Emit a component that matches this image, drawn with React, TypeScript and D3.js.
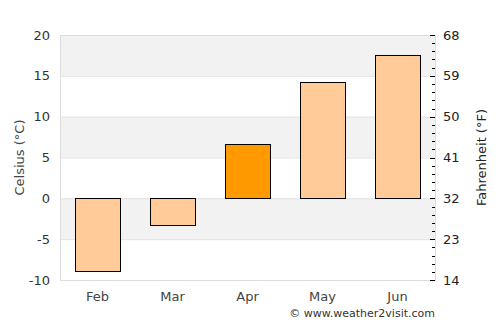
import React from 'react';
import * as d3 from 'd3';

const months = ['Feb', 'Mar', 'Apr', 'May', 'Jun'];
const temps = [-8.9, -3.3, 6.6, 14.2, 17.5];
const highlight = 'Apr';
const celsiusTicks = [-10, -5, 0, 5, 10, 15, 20];
const fahrenheitTicks = [14, 23, 32, 41, 50, 59, 68];

const W = 500;
const H = 325;
const margin = { top: 35, right: 65, bottom: 45, left: 60 };

export default function App() {
  const innerW = W - margin.left - margin.right;
  const innerH = H - margin.top - margin.bottom;

  const x = d3.scaleBand().domain(months).range([0, innerW]).paddingInner(0.4).paddingOuter(0.2);
  const y = d3.scaleLinear().domain([-10, 20]).range([innerH, 0]);
  const yF = d3.scaleLinear().domain([14, 68]).range([innerH, 0]);
  const minor = d3.range(-10, 21, 1);

  const font = 'DejaVu Sans, sans-serif';

  return (
    <svg width={W} height={H} style={{ position: 'absolute', left: 0, top: 0 }}>
      <g transform={`translate(${margin.left},${margin.top})`}>
        {/* alternating bands */}
        {celsiusTicks.slice(0, -1).map((t, i) =>
          i % 2 === 1 ? (
            <rect key={t} x={0} y={y(t + 5)} width={innerW} height={y(t) - y(t + 5)} fill="#f2f2f2" />
          ) : null
        )}
        {celsiusTicks.map(t => (
          <line key={t} x1={0} x2={innerW} y1={y(t) + 0.5} y2={y(t) + 0.5} stroke="#e2e2e2" />
        ))}
        <rect x={0.5} y={0.5} width={innerW} height={innerH} fill="none" stroke="#dddddd" />

        {/* bars */}
        {months.map((m, i) => {
          const v = temps[i];
          return (
            <rect
              key={m}
              x={Math.round(x(m)!) + 0.5}
              y={Math.round(y(Math.max(0, v))) + 0.5}
              width={Math.round(x.bandwidth())}
              height={Math.round(Math.abs(y(v) - y(0)))}
              fill={m === highlight ? '#ff9900' : '#ffcc99'}
              stroke="#000"
              strokeWidth={1}
            />
          );
        })}

        {/* left axis labels */}
        {celsiusTicks.map(t => (
          <text key={t} x={-10} y={y(t)} dy="0.35em" textAnchor="end" fontSize={13} fill="#333" fontFamily={font}>
            {t}
          </text>
        ))}

        {/* right axis ticks */}
        {minor.map(t => {
          const major = t % 5 === 0;
          return (
            <line
              key={t}
              x1={innerW - (major ? 5 : 3)}
              x2={innerW}
              y1={Math.round(y(t)) + 0.5}
              y2={Math.round(y(t)) + 0.5}
              stroke="#000"
            />
          );
        })}
        {fahrenheitTicks.map(t => (
          <text key={t} x={innerW + 8} y={yF(t)} dy="0.35em" textAnchor="start" fontSize={13} fill="#222" fontFamily={font}>
            {t}
          </text>
        ))}

        {/* month labels */}
        {months.map(m => (
          <text key={m} x={x(m)! + x.bandwidth() / 2} y={innerH + 21} textAnchor="middle" fontSize={13} fill="#444" fontFamily={font}>
            {m}
          </text>
        ))}

        <text
          transform={`translate(${-36},${innerH / 2}) rotate(-90)`}
          textAnchor="middle"
          fontSize={13}
          fill="#444"
          fontFamily={font}
        >
          Celsius (°C)
        </text>
        <text
          transform={`translate(${innerW + 51},${innerH / 2}) rotate(-90)`}
          textAnchor="middle"
          fontSize={13}
          fill="#222"
          fontFamily={font}
        >
          Fahrenheit (°F)
        </text>
      </g>
      <text x={W - 65} y={H - 8} textAnchor="end" fontSize={11} fill="#333" fontFamily={font}>
        © www.weather2visit.com
      </text>
    </svg>
  );
}
